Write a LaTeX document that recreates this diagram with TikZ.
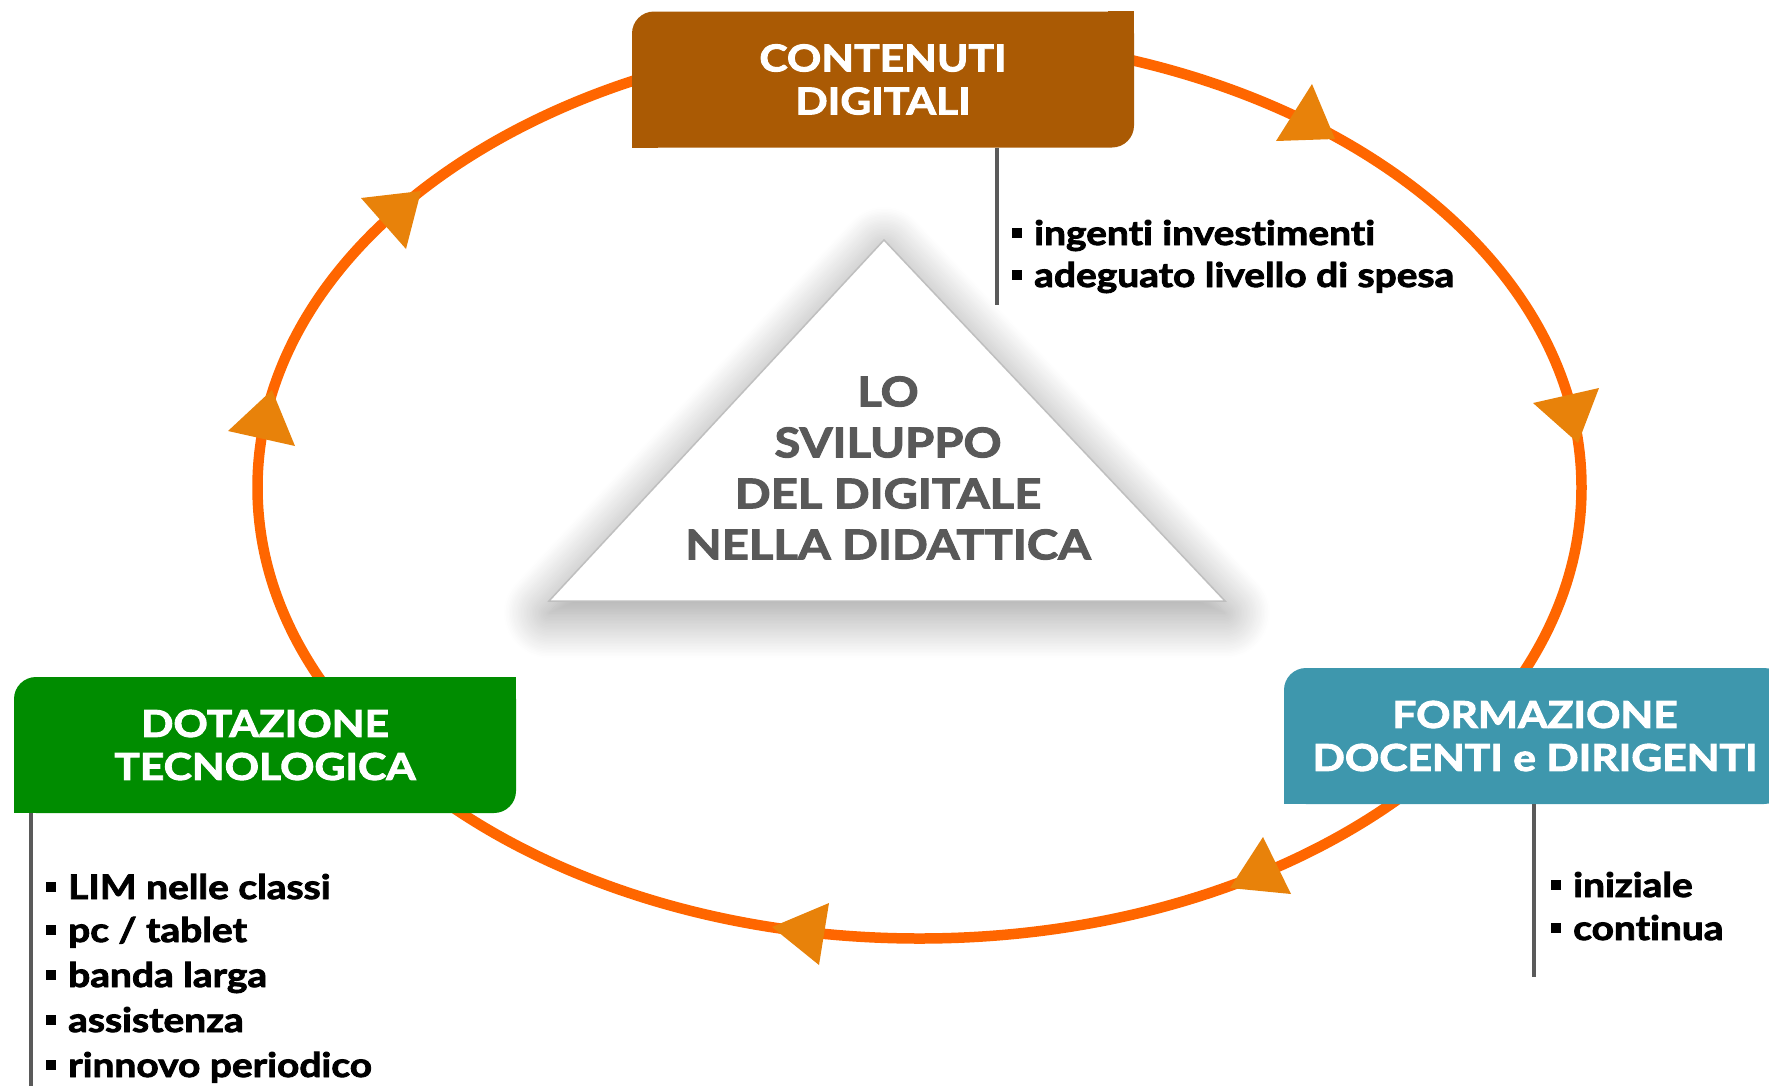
\documentclass[tikz,border=0pt]{standalone}
\usepackage{fontspec}
\setmainfont{Lato}[FakeStretch=1.15, Ligatures=NoCommon, BoldFeatures={FakeBold=2.5}]
\usetikzlibrary{shadows.blur}
\definecolor{cbrown}{HTML}{AA5A04}
\definecolor{cgreen}{HTML}{008C00}
\definecolor{cteal}{HTML}{3E97AD}
\definecolor{corange}{HTML}{FF6600}
\definecolor{carrow}{HTML}{E8820A}
\definecolor{cgrey}{HTML}{5A5A5A}
\definecolor{ctri}{HTML}{595959}
\newcommand\sqmark{\rule[7pt]{10pt}{10pt}\hspace{12pt}}
\begin{document}
\begin{tikzpicture}[x=1pt,y=-1pt,
  cycleline/.style={draw=corange, line width=10.5pt},
  arrowtri/.style={fill=carrow},
  catbox/.style={rectangle, rounded corners=22pt, minimum width=502pt, minimum height=136pt,
    inner sep=0pt, text=white, align=center, font=\fontsize{37}{43}\selectfont\bfseries},
  stem/.style={draw=cgrey, line width=4.5pt},
  item/.style={anchor=base west, inner sep=0pt, font=\fontsize{33.8}{40}\selectfont\bfseries},
  tritext/.style={inner sep=0pt, align=center, text=ctri, font=\fontsize{41}{51}\selectfont\bfseries}
]
\useasboundingbox (0,0) rectangle (1769,1085);
\clip (0,0) rectangle (1769,1085);

% cycle
\draw[cycleline] (919.5,487.5) ellipse [x radius=662pt, y radius=451pt];

% arrowheads
\fill[arrowtri] (361,198) -- (421,191) -- (406,249) -- cycle;
\fill[arrowtri] (1312,84) -- (1276,141) -- (1335,139) -- cycle;
\fill[arrowtri] (1533,403) -- (1599,388) -- (1578,443) -- cycle;
\fill[arrowtri] (1263,837) -- (1230,888) -- (1291,894) -- cycle;
\fill[arrowtri] (772,927) -- (829,903) -- (819,965) -- cycle;
\fill[arrowtri] (228,431) -- (272,390) -- (295,446) -- cycle;

% central triangle
\coordinate (tapex) at (884,240);
\coordinate (tleft) at (549,601);
\coordinate (tright) at (1225,601);
\filldraw[fill=white, draw=black!25, line width=1.5pt,
  blur shadow={shadow xshift=0pt, shadow yshift=-12pt, shadow blur radius=45pt,
    shadow blur steps=30, shadow opacity=42}]
  (tapex) -- (tright) -- (tleft) -- cycle;
\node[tritext] (center) at (888,468) {LO\\SVILUPPO\\DEL DIGITALE\\NELLA DIDATTICA};

% CONTENUTI DIGITALI
\node[catbox, fill=cbrown] (cont) at (883,79.5) {CONTENUTI\\DIGITALI};
\fill[cbrown] (cont.north east) rectangle ++(-26,26);
\fill[cbrown] (cont.south west) rectangle ++(26,-26);
\coordinate (cstem) at (997,305);
\draw[stem] (cstem |- cont.south) -- (cstem);
\node[item] (c1) at (1012,245) {\sqmark ingenti investimenti};
\node[item] (c2) at (1012,287) {\sqmark adeguato livello di spesa};

% DOTAZIONE TECNOLOGICA
\node[catbox, fill=cgreen] (dot) at (265,745) {DOTAZIONE\\TECNOLOGICA};
\fill[cgreen] (dot.north east) rectangle ++(-26,26);
\fill[cgreen] (dot.south west) rectangle ++(26,-26);
\coordinate (dstem) at (31,1090);
\draw[stem] (dstem |- dot.south) -- (dstem);
\node[item] (d1) at (46,899) {\sqmark LIM nelle classi};
\node[item] (d2) at (46,942) {\sqmark pc / tablet};
\node[item] (d3) at (46,987) {\sqmark banda larga};
\node[item] (d4) at (46,1032) {\sqmark assistenza};
\node[item] (d5) at (46,1077) {\sqmark rinnovo periodico};

% FORMAZIONE DOCENTI e DIRIGENTI
\node[catbox, fill=cteal] (form) at (1535,736) {FORMAZIONE\\DOCENTI e DIRIGENTI};
\fill[cteal] (form.south west) rectangle ++(26,-26);
\coordinate (fstem) at (1534,977);
\draw[stem] (fstem |- form.south) -- (fstem);
\node[item] (f1) at (1551,897) {\sqmark iniziale};
\node[item] (f2) at (1551,940) {\sqmark continua};
\end{tikzpicture}
\end{document}
